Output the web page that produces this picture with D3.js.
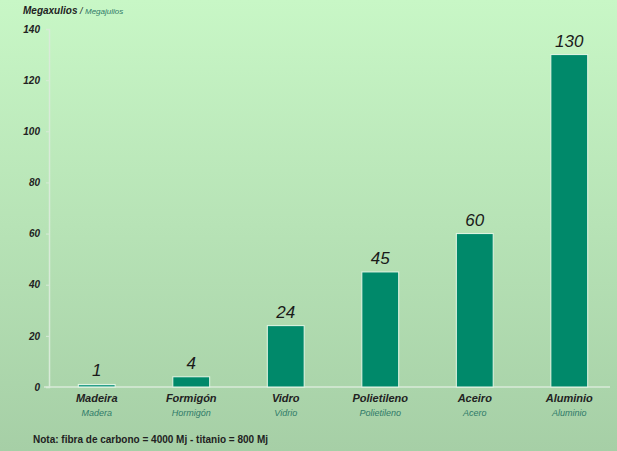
<!DOCTYPE html>
<head>
    <meta charset="utf-8">
    <script src="https://d3js.org/d3.v7.min.js"></script>
    <style>
        body { margin: 0; }
    </style>
</head>
<body>
    <svg id="chart" width="617" height="451"></svg>
    <script>
        // data
        var categories = ["Madeira", "Formigón", "Vidro", "Polietileno", "Aceiro", "Aluminio"];
        var subLabels = ["Madera", "Hormigón", "Vidrio", "Polietileno", "Acero", "Aluminio"];
        var values = [1, 4, 24, 45, 60, 130];
        var yTicks = [0, 20, 40, 60, 80, 100, 120, 140];

        var svg = d3.select("#chart"),
            width = +svg.attr("width"),
            height = +svg.attr("height");

        // background gradient
        var grad = svg.append("defs").append("linearGradient")
            .attr("id", "bg").attr("x1", 0).attr("y1", 0).attr("x2", 0).attr("y2", 1);
        grad.append("stop").attr("offset", "0%").attr("stop-color", "#c8f7c6");
        grad.append("stop").attr("offset", "100%").attr("stop-color", "#a6cfa6");
        svg.append("rect").attr("width", width).attr("height", height).attr("fill", "url(#bg)");

        var x = d3.scaleBand()
            .domain(categories)
            .range([49, 617])
            .paddingInner(0.61)
            .paddingOuter(0.31);

        var y = d3.scaleLinear()
            .domain([0, 140])
            .range([387, 29]);

        // y axis
        var yAxis = svg.append("g")
            .attr("transform", "translate(49,0)")
            .call(d3.axisLeft(y).tickValues(yTicks).tickSize(3).tickPadding(6));
        yAxis.select(".domain").attr("stroke", "#d8ead8").attr("stroke-width", 1.5);
        yAxis.selectAll(".tick line").attr("stroke", "#d8ead8");
        yAxis.selectAll("text")
            .style("font-family", "Liberation Sans, Arial, sans-serif")
            .style("font-size", "10px")
            .style("font-weight", "bold")
            .style("font-style", "italic")
            .attr("fill", "#222");

        // x axis line
        svg.append("line")
            .attr("x1", 44).attr("x2", 610)
            .attr("y1", y(0)).attr("y2", y(0))
            .attr("stroke", "#d8ead8").attr("stroke-width", 1.5);

        // bars
        svg.append("g")
            .selectAll("rect")
            .data(values)
            .enter().append("rect")
            .attr("x", function (d, i) { return x(categories[i]); })
            .attr("width", x.bandwidth())
            .attr("y", function (d) { return y(d); })
            .attr("height", function (d) { return y(0) - y(d); })
            .attr("fill", function (d, i) { return i == 0 ? "#2aa08a" : "#00896a"; })
            .attr("stroke", "#e6f7e6")
            .attr("stroke-width", 1);

        // value labels
        svg.append("g")
            .selectAll("text")
            .data(values)
            .enter().append("text")
            .attr("x", function (d, i) { return x(categories[i]) + x.bandwidth() / 2; })
            .attr("y", function (d) { return y(d) - 8; })
            .attr("text-anchor", "middle")
            .style("font-family", "Liberation Sans, Arial, sans-serif")
            .style("font-size", "17px")
            .style("font-style", "italic")
            .attr("fill", "#1a1a1a")
            .text(function (d) { return d; });

        // category labels
        svg.append("g")
            .selectAll("text")
            .data(categories)
            .enter().append("text")
            .attr("x", function (d) { return x(d) + x.bandwidth() / 2; })
            .attr("y", 402)
            .attr("text-anchor", "middle")
            .style("font-family", "Liberation Sans, Arial, sans-serif")
            .style("font-size", "11px")
            .style("font-weight", "bold")
            .style("font-style", "italic")
            .attr("fill", "#222")
            .text(function (d) { return d; });

        svg.append("g")
            .selectAll("text")
            .data(subLabels)
            .enter().append("text")
            .attr("x", function (d, i) { return x(categories[i]) + x.bandwidth() / 2; })
            .attr("y", 416)
            .attr("text-anchor", "middle")
            .style("font-family", "Liberation Sans, Arial, sans-serif")
            .style("font-size", "9px")
            .style("font-style", "italic")
            .attr("fill", "#2f7a68")
            .text(function (d) { return d; });

        // title
        var title = svg.append("text")
            .attr("x", 23).attr("y", 14)
            .style("font-family", "Liberation Sans, Arial, sans-serif")
            .style("font-style", "italic");
        title.append("tspan").style("font-weight", "bold").style("font-size", "10px")
            .attr("fill", "#222").text("Megaxulios");
        title.append("tspan").style("font-size", "9px").attr("fill", "#222").text(" / ");
        title.append("tspan").style("font-size", "8px").attr("fill", "#2f7a68").text("Megajulios");

        // note
        svg.append("text")
            .attr("x", 33).attr("y", 443)
            .style("font-family", "Liberation Sans, Arial, sans-serif")
            .style("font-size", "10px")
            .style("font-weight", "bold")
            .attr("fill", "#222")
            .text("Nota: fibra de carbono = 4000 Mj - titanio = 800 Mj");
    </script>
</body>
